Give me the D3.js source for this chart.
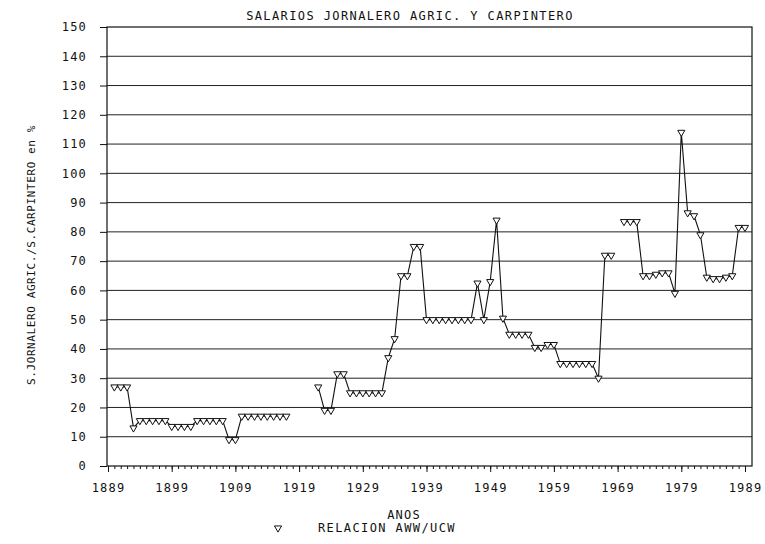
<!DOCTYPE html>
<html>
<head>
<meta charset="utf-8">
<script src="https://cdn.jsdelivr.net/npm/d3@7"></script>
<style>
  body { margin: 0; background: #fff; }
  text { font-family: "DejaVu Sans Mono", monospace; fill: #111; }
</style>
</head>
<body>
<div id="chart-area"></div>
<script>
// wage ratio, one value per year starting 1890 (null = no data)
var startYear = 1890;
var ratio = [
  27, 27, 27, 13, 15.5, 15.5, 15.5, 15.5, 15.5, 13.5,
  13.5, 13.5, 13.5, 15.5, 15.5, 15.5, 15.5, 15.5, 9, 9,
  17, 17, 17, 17, 17, 17, 17, 17, null, null,
  null, null, 27, 19, 19, 31.5, 31.5, 25, 25, 25,
  25, 25, 25, 37, 43.5, 65, 65, 75, 75, 50,
  50, 50, 50, 50, 50, 50, 50, 62.5, 50, 63,
  84, 50.5, 45, 45, 45, 45, 40.5, 40.5, 41.5, 41.5,
  35, 35, 35, 35, 35, 35, 30, 72, 72, null,
  83.5, 83.5, 83.5, 65, 65, 65.5, 66, 66, 59, 114,
  86.5, 85.5, 79, 64.5, 64, 64, 64.5, 65, 81.5, 81.5
];
var xTickLabels = ["1889", "1899", "1909", "1919", "1929", "1939", "1949", "1959", "1969", "1979", "1989"];
var yTicks = [0, 10, 20, 30, 40, 50, 60, 70, 80, 90, 100, 110, 120, 130, 140, 150];

var data = ratio.map(function(v, i) { return {year: startYear + i, v: v}; });

var width = 765, height = 544;
var plotLeft = 107, plotRight = 752, plotTop = 27, plotBottom = 466;

var svg = d3.select("#chart-area").append("svg")
    .attr("width", width)
    .attr("height", height);

var x = d3.scaleLinear().domain([1889, 1989]).range([108, 745]);
var y = d3.scaleLinear().domain([0, 150]).range([plotBottom, plotTop]);

// title
svg.append("text")
    .attr("x", 410).attr("y", 20)
    .attr("text-anchor", "middle")
    .attr("font-size", 12)
    .attr("letter-spacing", 1.4)
    .text("SALARIOS JORNALERO AGRIC. Y CARPINTERO");

// gridlines
svg.append("g").selectAll("line")
    .data(yTicks.filter(function(t) { return t > 0 && t < 150; }))
    .enter().append("line")
    .attr("x1", plotLeft).attr("x2", plotRight)
    .attr("y1", function(d) { return y(d); })
    .attr("y2", function(d) { return y(d); })
    .attr("stroke", "#222").attr("stroke-width", 1);

// frame
svg.append("rect")
    .attr("x", plotLeft).attr("y", plotTop)
    .attr("width", plotRight - plotLeft).attr("height", plotBottom - plotTop)
    .attr("fill", "none").attr("stroke", "#111").attr("stroke-width", 1.2);

// y axis
var yAxis = svg.append("g")
    .attr("transform", "translate(" + plotLeft + ",0)")
    .call(d3.axisLeft(y).tickValues(yTicks).tickFormat(d3.format("d")).tickSize(7).tickPadding(13));
yAxis.select(".domain").remove();
yAxis.selectAll("line").attr("stroke", "#111");
yAxis.selectAll("text")
    .attr("font-size", 12).attr("letter-spacing", 1.2)
    .style("font-family", "'DejaVu Sans Mono', monospace").attr("fill", "#111");

// x axis: yearly minor ticks, labelled decades
var allYears = d3.range(1889, 1990);
var xMinor = svg.append("g")
    .attr("transform", "translate(0," + plotBottom + ")")
    .call(d3.axisBottom(x).tickValues(allYears).tickSize(3).tickFormat(""));
xMinor.select(".domain").remove();
xMinor.selectAll("line").attr("stroke", "#111");

var xMajor = svg.append("g")
    .attr("transform", "translate(0," + plotBottom + ")")
    .call(d3.axisBottom(x).tickValues(xTickLabels.map(Number))
        .tickFormat(function(d, i) { return xTickLabels[i]; })
        .tickSize(6).tickPadding(11));
xMajor.select(".domain").remove();
xMajor.selectAll("line").attr("stroke", "#111");
xMajor.selectAll("text")
    .attr("font-size", 12).attr("letter-spacing", 1.2)
    .style("font-family", "'DejaVu Sans Mono', monospace").attr("fill", "#111");

// y axis title
svg.append("text")
    .attr("transform", "translate(35,255) rotate(-90)")
    .attr("text-anchor", "middle")
    .attr("font-size", 11)
    .attr("letter-spacing", 0.6)
    .text("S.JORNALERO AGRIC./S.CARPINTERO en %");

// x axis title
svg.append("text")
    .attr("x", 404).attr("y", 519)
    .attr("text-anchor", "middle")
    .attr("font-size", 12).attr("letter-spacing", 1.2)
    .text("ANOS");

// series line
var line = d3.line()
    .defined(function(d) { return d.v != null; })
    .x(function(d) { return x(d.year); })
    .y(function(d) { return y(d.v); });

svg.append("path")
    .datum(data)
    .attr("d", line)
    .attr("fill", "none")
    .attr("stroke", "#111")
    .attr("stroke-width", 1.1);

var marker = d3.symbol().type(d3.symbolTriangle).size(22);

svg.append("g").selectAll("path")
    .data(data.filter(function(d) { return d.v != null; }))
    .enter().append("path")
    .attr("d", marker)
    .attr("transform", function(d) { return "translate(" + x(d.year) + "," + y(d.v) + ") rotate(180)"; })
    .attr("fill", "#fff")
    .attr("stroke", "#111")
    .attr("stroke-width", 1);

// legend
svg.append("path")
    .attr("d", marker)
    .attr("transform", "translate(278,528) rotate(180)")
    .attr("fill", "#fff").attr("stroke", "#111").attr("stroke-width", 1);
svg.append("text")
    .attr("x", 318).attr("y", 532)
    .attr("font-size", 12).attr("letter-spacing", 1.4)
    .text("RELACION AWW/UCW");
</script>
</body>
</html>
